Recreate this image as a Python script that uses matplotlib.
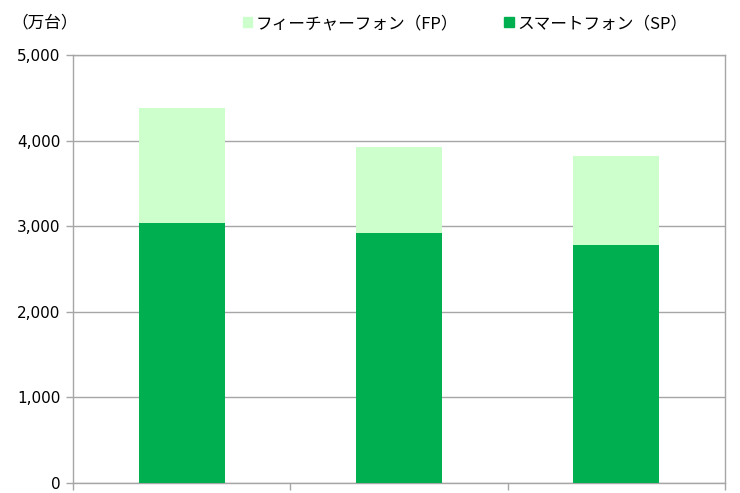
import matplotlib.pyplot as plt
from matplotlib.patches import Patch
from matplotlib.ticker import FuncFormatter

plt.rcParams['font.family'] = ['DejaVu Sans', 'Noto Sans CJK JP']

# values (10k units)
categories = ["A", "B", "C"]
sp = [3040, 2925, 2775]
fp = [1335, 1000, 1050]
labels = ["フィーチャーフォン（FP）", "スマートフォン（SP）"]

sp_color = "#00B050"
fp_color = "#CCFFCC"
grid_color = "#A6A6A6"

fig = plt.figure(figsize=(7.4, 4.93), dpi=100)
ax = fig.add_axes([0.0986, 0.0203, 0.8811, 0.8682])

x = range(len(categories))
ax.bar(x, sp, width=0.395, color=sp_color, zorder=3)
ax.bar(x, fp, width=0.395, bottom=sp, color=fp_color, zorder=3)

ax.set_xlim(-0.5, 2.5)
ax.set_ylim(0, 5000)
ax.set_yticks(range(0, 5001, 1000))
ax.yaxis.set_major_formatter(FuncFormatter(lambda v, p: f"{int(v):,}"))
ax.set_xticks([-0.5, 0.5, 1.5, 2.5])
ax.set_xticklabels([])
ax.tick_params(axis='both', colors=grid_color, labelcolor="#000000",
               labelsize=11, length=5, width=1)
ax.tick_params(axis='y', pad=4)
ax.grid(axis='y', color=grid_color, linewidth=1, zorder=0)
for s in ax.spines.values():
    s.set_color(grid_color)
    s.set_linewidth(1)

fig.text(0.016, 0.953, "（万台）", fontsize=12, va='center', ha='left',
         family=['Noto Sans CJK JP', 'DejaVu Sans'])

handles = [Patch(color=fp_color), Patch(color=sp_color)]
leg = fig.legend(handles, labels, ncol=2, frameon=False,
                 loc='center left', bbox_to_anchor=(0.319, 0.952),
                 handlelength=0.55, handleheight=0.55, handletextpad=0.25,
                 columnspacing=2.75, borderaxespad=0,
                 prop={'family': ['Noto Sans CJK JP', 'DejaVu Sans'], 'size': 12})

fig.savefig("out.png", dpi=100)
